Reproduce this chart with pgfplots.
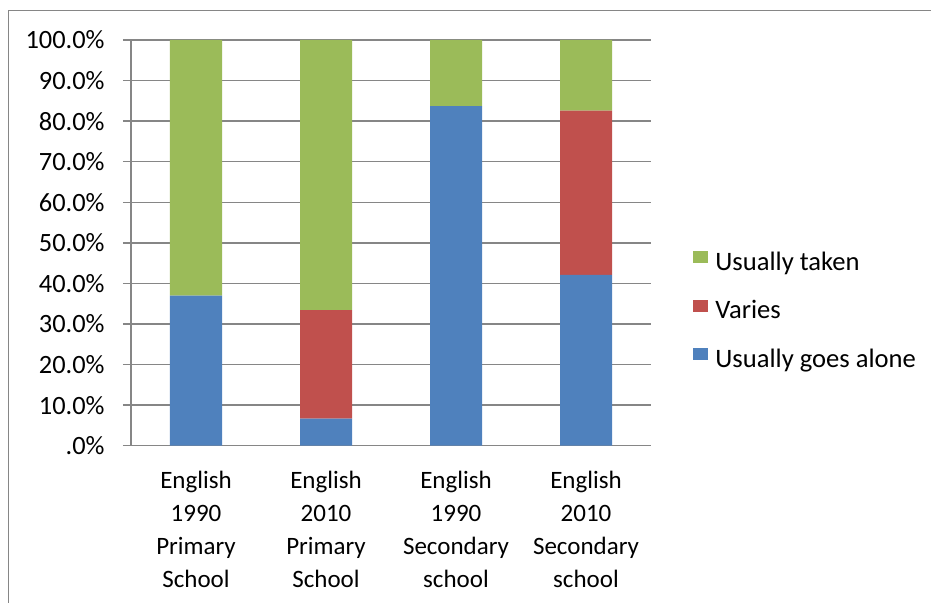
\documentclass[border=0pt]{standalone}
\usepackage{pgfplots}
\pgfplotsset{compat=1.18}
\usepackage{fontspec}
\setmainfont{Carlito}

\definecolor{cBlue}{RGB}{79,129,189}
\definecolor{cRed}{RGB}{192,80,77}
\definecolor{cGreen}{RGB}{155,187,89}
\definecolor{cGrid}{RGB}{134,134,134}

% shares in percent, one row per category
\pgfplotstableread{
x alone varies taken
0 37.0 0.0  63.0
1 6.7  26.7 66.6
2 83.7 0.0  16.3
3 42.1 40.5 17.4
}\shares

\begin{document}
\begin{tikzpicture}
\useasboundingbox (0,0) rectangle (465.5pt,301.5pt);
\draw[cGrid, line width=0.75pt] (4.25pt,0pt) -- (4.25pt,296.25pt) -- (465.5pt,296.25pt);
\begin{axis}[
    at={(65.5pt,78.65pt)}, anchor=south west,
    scale only axis,
    width=260pt, height=202.85pt,
    ybar stacked, bar width=26pt,
    xmin=-0.5, xmax=3.5, ymin=0, ymax=100,
    enlargelimits=false,
    axis x line*=bottom, axis y line*=left,
    axis line style={cGrid, line width=0.75pt, -},
    ymajorgrids, grid style={cGrid, line width=0.75pt},
    tick align=outside,
    major tick length=4pt, minor tick length=4pt,
    tick style={cGrid, line width=0.75pt},
    xtick={0,1,2,3}, xtick style={draw=none},
    minor xtick={-0.5,0.5,1.5,2.5,3.5},
    xticklabels={{English\\1990\\Primary\\School},{English\\2010\\Primary\\School},
                 {English\\1990\\Secondary\\school},{English\\2010\\Secondary\\school}},
    xticklabel style={align=center, anchor=north, inner sep=0pt,
                      font=\fontsize{12.5}{16.5}\selectfont, yshift=-8.5pt},
    ytick={0,10,...,100},
    yticklabels={.0\%,10.0\%,20.0\%,30.0\%,40.0\%,50.0\%,60.0\%,70.0\%,80.0\%,90.0\%,100.0\%},
    yticklabel style={anchor=east, inner sep=0pt, font=\fontsize{13.2}{15}\selectfont, xshift=-9pt},
    reverse legend,
    legend image code/.code={\fill[#1] (0pt,0.5pt) rectangle (7.5pt,6.5pt);},
    legend cell align=left,
    legend style={draw=none, fill=none, inner sep=0pt,
                  at={(axis description cs:1.0808,0.3296)}, anchor=west,
                  row sep=12.1pt,
                  font=\fontsize{13.3}{15}\selectfont,
                  nodes={inner ysep=0pt, inner xsep=3.5pt, text height=8.6pt, text depth=2.6pt}},
]
\addplot[fill=cBlue, draw=none] table[x=x, y=alone] {\shares};
\addlegendentry{Usually goes alone}
\addplot[fill=cRed, draw=none] table[x=x, y=varies] {\shares};
\addlegendentry{Varies}
\addplot[fill=cGreen, draw=none] table[x=x, y=taken] {\shares};
\addlegendentry{Usually taken}
\end{axis}
\end{tikzpicture}
\end{document}
